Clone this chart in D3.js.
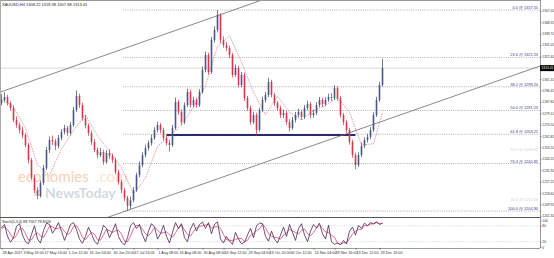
<!doctype html>
<html lang="en">
<head>
<meta charset="UTF-8">
<title>XAUUSD H4</title>
<script src="https://cdn.jsdelivr.net/npm/d3@7"></script>
<style>
  body { margin: 0; background: #fff; }
  svg { display: block; font-family: "Liberation Sans", Arial, sans-serif; }
  .axis text { font-size: 3.7px; fill: #333; }
  .axis.price text { font-size: 3.3px; }
  .axis path, .axis line { stroke: #555; stroke-width: 0.6; }
</style>
</head>
<body>
<svg width="554" height="258"></svg>
<script>
// H4 candles (open = previous close)
var firstOpen = 1287.0;
var closes = [1289.2,1291.5,1286.9,1283.1,1274.0,1270.2,1266.4,1262.6,1255.0,1243.6,
  1230.0,1220.8,1216.3,1226.2,1237.5,1251.2,1258.8,1257.9,1254.3,1260.3,
  1264.9,1267.9,1264.1,1270.2,1281.6,1292.2,1285.4,1275.5,1269.8,1264.1,
  1257.3,1251.2,1247.4,1249.7,1242.1,1248.9,1246.8,1243.6,1234.5,1226.9,
  1220.8,1214.8,1208.7,1213.2,1220.8,1232.2,1239.8,1247.4,1252.7,1256.5,
  1260.3,1266.4,1270.2,1266.4,1260.3,1256.5,1255.0,1267.9,1287.7,1280.1,
  1272.5,1285.4,1295.3,1285.4,1289.2,1285.4,1295.3,1312.0,1323.4,1310.5,
  1334.8,1342.4,1353.8,1334.8,1331.0,1328.7,1323.4,1308.2,1313.5,1300.6,
  1308.2,1290.7,1283.1,1272.5,1277.8,1266.4,1281.6,1289.2,1293.0,1302.9,
  1293.0,1286.9,1283.1,1277.8,1279.3,1272.5,1267.9,1274.0,1277.8,1280.1,
  1276.3,1283.1,1286.2,1277.8,1279.3,1285.4,1289.2,1286.2,1289.2,1291.5,
  1290.7,1298.3,1290.7,1277.8,1272.5,1266.4,1257.3,1247.4,1239.8,1247.4,
  1254.3,1258.8,1261.1,1266.4,1277.8,1289.2,1300.6,1313.4];
var highs = [1293.5,1295.0,1293.1,1288.4,1285.0,1276.8,1272.0,1268.9,1264.1,1256.7,
  1245.2,1232.5,1223.0,1228.0,1239.9,1253.4,1261.5,1262.3,1259.6,1262.7,
  1267.1,1270.4,1269.5,1272.6,1283.9,1296.4,1294.0,1287.1,1277.9,1271.4,
  1266.0,1259.4,1253.0,1252.6,1251.3,1251.0,1251.7,1248.5,1245.3,1236.2,
  1228.6,1222.5,1216.4,1215.8,1223.1,1234.0,1242.5,1249.6,1255.3,1258.4,
  1262.9,1268.5,1272.7,1271.8,1268.1,1262.4,1259.0,1270.3,1291.0,1289.4,
  1282.0,1287.3,1297.8,1297.0,1291.6,1291.0,1297.4,1314.6,1326.0,1325.1,
  1337.2,1345.3,1357.5,1355.2,1337.6,1333.4,1330.5,1325.0,1316.1,1315.0,
  1310.4,1309.9,1292.4,1284.8,1280.2,1279.5,1283.4,1291.8,1295.2,1306.0,
  1304.6,1294.7,1288.5,1284.9,1282.0,1281.1,1274.6,1276.3,1280.1,1282.6,
  1281.9,1285.4,1288.7,1287.9,1281.8,1287.6,1291.5,1290.9,1291.3,1294.0,
  1294.4,1300.4,1299.6,1292.3,1279.4,1274.2,1268.0,1259.0,1249.1,1249.5,
  1256.8,1260.7,1263.5,1268.6,1279.9,1291.6,1303.0,1320.5];
var lows = [1285.2,1287.6,1285.0,1280.9,1272.3,1268.1,1264.0,1260.2,1253.3,1241.0,
  1228.4,1218.3,1213.9,1215.1,1224.6,1236.0,1249.0,1254.8,1251.2,1252.5,
  1258.6,1263.0,1261.8,1262.4,1268.8,1280.0,1283.2,1273.4,1267.6,1262.0,
  1255.1,1249.5,1245.1,1245.9,1240.0,1240.8,1244.5,1241.2,1232.7,1224.8,
  1218.4,1212.3,1204.9,1206.5,1211.6,1219.3,1230.4,1238.1,1245.7,1250.8,
  1254.6,1258.9,1264.5,1264.0,1258.2,1254.7,1250.1,1253.6,1266.5,1277.9,
  1270.2,1270.8,1283.9,1283.5,1283.7,1283.3,1284.0,1294.1,1310.2,1308.4,
  1309.0,1332.9,1340.6,1332.4,1328.9,1326.2,1321.0,1306.4,1306.9,1298.7,
  1299.0,1288.5,1281.0,1270.3,1270.9,1262.0,1265.1,1280.0,1287.4,1291.5,
  1291.2,1284.8,1281.0,1275.6,1275.4,1270.4,1265.2,1266.5,1272.2,1276.0,
  1274.1,1274.8,1281.5,1275.6,1275.9,1277.7,1283.8,1284.0,1284.6,1287.8,
  1288.5,1289.1,1288.6,1275.9,1270.1,1264.3,1255.2,1245.3,1236.6,1238.2,
  1245.9,1252.6,1256.9,1259.4,1265.0,1276.3,1287.9,1299.4];

// dashed moving line (bar index, price)
var maIdx = [0,4,8,12,16,20,24,28,32,36,40,44,48,52,56,60,64,68,72,76,80,84,88,92,96,100,104,108,112,116,120,124,127];
var maVals = [1290,1284,1268,1240,1232,1252,1266,1278,1262,1250,1238,1218,1230,1254,1262,1270,1284,1300,1330,1338,1318,1295,1278,1292,1280,1274,1281,1285,1291,1280,1255,1256,1280];

// stochastic %K and %D
var stochK = [72,85,40,18,35,78,88,45,20,12,48,80,30,15,62,90,85,52,70,92,
  60,25,55,85,92,65,30,14,40,75,50,22,10,45,82,70,35,60,88,40,
  18,8,35,80,92,70,85,45,20,60,88,75,30,50,82,40,15,55,92,70,
  88,35,20,68,90,60,85,94,70,92,50,85,95,30,15,40,22,10,55,30,
  12,18,45,70,35,80,90,88,40,22,60,30,15,45,75,40,85,55,25,70,
  88,45,20,60,85,72,90,50,30,82,20,10,15,8,25,12,60,75,45,82,
  70,90,80,92,88,95,85,90];
var stochD = [70,76,66,48,31,44,67,70,51,26,27,47,53,42,36,56,79,76,69,71,
  74,59,47,55,77,81,62,36,28,43,55,49,27,26,46,66,62,55,61,63,
  49,22,20,41,69,81,82,67,50,42,56,74,64,52,54,57,46,37,54,72,
  83,64,48,41,59,73,78,80,83,85,71,76,77,70,47,28,26,24,29,32,
  32,20,25,44,50,62,68,86,73,50,41,37,35,30,45,53,67,60,55,50,
  61,68,51,42,55,72,82,71,57,54,44,37,15,11,16,15,32,49,60,67,
  66,81,80,87,87,92,89,90];

// fibonacci retracement
var fibPct = ['0.0','23.6','38.2','50.0','61.8','76.4','100.0'];
var fibPrices = [1357.55,1321.53,1299.24,1281.23,1263.21,1240.92,1204.90];
var faintPct = ['70.7','95.5'];
var faintPrices = [1249.62,1211.68];

// other drawn objects
var upperChannel = [[-1, 1294.7], [90, 1367.7]];
var lowerChannel = [[30, 1195.8], [185, 1319.4]];
var supportLine = [[55, 1262.6], [118, 1262.6]];
var bid = 1313.41;

var priceTicks = [1357.00,1348.35,1339.70,1331.05,1322.40,1313.75,1305.10,1296.45,1287.80,1279.15,
  1270.50,1261.85,1253.20,1244.55,1235.90,1227.25,1218.60,1209.95,1201.30];
var timeIdx = [0,7,14,22,29,37,44,52,59,67,74,82,89,96,104,111,118,126];
var timeLabels = ['28 Apr 2017','3 May 16:00','17 May 16:00','1 Jun 12:00','16 Jun 04:00','30 Jun 20:00',
  '17 Jul 16:00','1 Aug 08:00','16 Aug 08:00','30 Aug 08:00','14 Sep 12:00','29 Sep 04:00',
  '13 Oct 20:00','30 Oct 12:00','14 Nov 04:00','29 Nov 16:00','13 Dec 12:00','29 Dec 16:00'];

var svg = d3.select('svg'),
    axisX = 540,
    mainTop = 1, mainBottom = 217,
    oscTop = 218, oscBottom = 248;

var x = d3.scaleLinear().domain([-0.5, 179.5]).range([0, axisX]);
var y = d3.scaleLinear().domain([1204.90, 1357.55]).range([211, 10]);
var ys = d3.scaleLinear().domain([0, 100]).range([247, 220.5]);

var defs = svg.append('defs');
defs.append('clipPath').attr('id', 'clipMain').append('rect')
    .attr('x', 1).attr('y', mainTop).attr('width', axisX - 1).attr('height', mainBottom - mainTop);
defs.append('clipPath').attr('id', 'clipOsc').append('rect')
    .attr('x', 1).attr('y', oscTop).attr('width', axisX - 1).attr('height', oscBottom - oscTop);

// frames
svg.append('line').attr('x1', 0).attr('x2', axisX).attr('y1', 0.5).attr('y2', 0.5).attr('stroke', '#999').attr('stroke-width', 1);
svg.append('line').attr('x1', 0.5).attr('x2', 0.5).attr('y1', 0).attr('y2', oscBottom).attr('stroke', '#aaa').attr('stroke-width', 1);
svg.append('line').attr('x1', 0).attr('x2', axisX).attr('y1', mainBottom + 0.5).attr('y2', mainBottom + 0.5).attr('stroke', '#555').attr('stroke-width', 1.2);

// watermark
var wm = svg.append('g').attr('opacity', 0.5);
wm.append('text').attr('x', 18).attr('y', 182).attr('font-size', 15).attr('font-family', 'Lato, sans-serif')
    .attr('fill', '#f0a36a').text('economies');
wm.append('text').attr('x', 96).attr('y', 182).attr('font-size', 15).attr('font-family', 'Lato, sans-serif')
    .attr('fill', '#f6c9a6').text('.com');
wm.append('text').attr('x', 32).attr('y', 197).attr('font-size', 11).attr('font-family', 'Lato, sans-serif')
    .attr('fill', '#aab3c2').text('\u2715');
wm.append('text').attr('x', 45).attr('y', 198).attr('font-size', 14).attr('font-weight', 'bold').attr('font-family', 'Lato, sans-serif')
    .attr('fill', '#aab3c2').text('NewsToday');

var g = svg.append('g').attr('clip-path', 'url(#clipMain)');

// bid line
g.append('line').attr('x1', 0).attr('x2', axisX).attr('y1', y(bid)).attr('y2', y(bid))
    .attr('stroke', '#cfcfcf').attr('stroke-width', 0.8);

// fibo levels
g.selectAll('.fib').data(fibPrices).enter().append('line')
    .attr('x1', x(40.5)).attr('x2', axisX)
    .attr('y1', function(d) { return y(d); }).attr('y2', function(d) { return y(d); })
    .attr('stroke', '#8e8e8e').attr('stroke-width', 0.7).attr('stroke-dasharray', '1,1.2');
g.selectAll('.fibl').data(fibPrices).enter().append('text')
    .attr('x', axisX - 2).attr('y', function(d) { return y(d) - 1; })
    .attr('text-anchor', 'end').attr('font-size', 3.9).attr('fill', '#3b3b8f')
    .text(function(d, i) { return fibPct[i] + ' @ ' + d.toFixed(2); });
g.selectAll('.faint').data(faintPrices).enter().append('text')
    .attr('x', axisX - 2).attr('y', function(d) { return y(d) - 1; })
    .attr('text-anchor', 'end').attr('font-size', 3.9).attr('fill', '#d0d0d8')
    .text(function(d, i) { return faintPct[i] + ' @ ' + d.toFixed(2); });

// support line
g.append('line')
    .attr('x1', x(supportLine[0][0])).attr('x2', x(supportLine[1][0]))
    .attr('y1', y(supportLine[0][1])).attr('y2', y(supportLine[1][1]))
    .attr('stroke', '#2b2d6b').attr('stroke-width', 1.8);

// channel lines
[upperChannel, lowerChannel].forEach(function(c) {
    g.append('line')
        .attr('x1', x(c[0][0])).attr('y1', y(c[0][1]))
        .attr('x2', x(c[1][0])).attr('y2', y(c[1][1]))
        .attr('stroke', '#6a6a78').attr('stroke-width', 0.8);
});

// dashed line
g.append('path').datum(maIdx)
    .attr('fill', 'none').attr('stroke', '#c7606c').attr('stroke-width', 0.6).attr('stroke-dasharray', '1.5,1')
    .attr('d', d3.line().x(function(d) { return x(d); }).y(function(d, i) { return y(maVals[i]); }));

// candles
var candles = g.selectAll('.c').data(closes).enter().append('g');
function openOf(i) { return i ? closes[i - 1] : firstOpen; }
function isUp(d, i) { return d >= openOf(i); }
candles.append('line')
    .attr('x1', function(d, i) { return x(i); }).attr('x2', function(d, i) { return x(i); })
    .attr('y1', function(d, i) { return y(highs[i]); }).attr('y2', function(d, i) { return y(lows[i]); })
    .attr('stroke', function(d, i) { return isUp(d, i) ? '#33406e' : '#c92a3e'; })
    .attr('stroke-width', 0.7);
candles.append('rect')
    .attr('x', function(d, i) { return x(i) - 0.8; })
    .attr('width', 1.6)
    .attr('y', function(d, i) { return y(Math.max(d, openOf(i))); })
    .attr('height', function(d, i) { return Math.max(0.6, Math.abs(y(d) - y(openOf(i)))); })
    .attr('fill', function(d, i) { return isUp(d, i) ? '#4a5785' : '#d8364a'; });

// header
svg.append('text').attr('x', 2).attr('y', 6).attr('font-size', 4).attr('fill', '#222')
    .text('XAUUSD,H4  1308.22 1318.38 1307.88 1313.41');

// price axis
svg.append('g').attr('class', 'axis price')
    .attr('transform', 'translate(' + axisX + ',0)')
    .call(d3.axisRight(y).tickValues(priceTicks).tickSize(1.5).tickPadding(0.8).tickFormat(d3.format('.2f')))
    .call(function(a) { a.select('.domain').attr('d', 'M0.5,0V' + oscBottom); });

// bid box
svg.append('rect').attr('x', axisX).attr('y', y(bid) - 3).attr('width', 14).attr('height', 6).attr('fill', '#000');
svg.append('text').attr('x', axisX + 1.5).attr('y', y(bid) + 1.2).attr('font-size', 3.3).attr('fill', '#fff').text(bid.toFixed(2));

// stochastic panel
var so = svg.append('g');
[20, 80].forEach(function(v) {
    so.append('line').attr('x1', 1).attr('x2', axisX).attr('y1', ys(v)).attr('y2', ys(v))
        .attr('stroke', '#bbb').attr('stroke-width', 0.6).attr('stroke-dasharray', '1,1.2');
});
var sp = so.append('g').attr('clip-path', 'url(#clipOsc)');
sp.append('path').datum(stochD)
    .attr('fill', 'none').attr('stroke', '#d9457a').attr('stroke-width', 0.8)
    .attr('d', d3.line().x(function(d, i) { return x(i); }).y(function(d) { return ys(d); }));
sp.append('path').datum(stochK)
    .attr('fill', 'none').attr('stroke', '#4b2450').attr('stroke-width', 0.8)
    .attr('d', d3.line().x(function(d, i) { return x(i); }).y(function(d) { return ys(d); }));
so.append('text').attr('x', 2).attr('y', 222.5).attr('font-size', 3.7).attr('fill', '#222')
    .text('Stoch(5,3,3) 88.7567 79.8026');
svg.append('g').attr('class', 'axis price')
    .attr('transform', 'translate(' + axisX + ',0)')
    .call(d3.axisRight(ys).tickValues([0, 20, 80, 100]).tickSize(1.5).tickPadding(0.8))
    .call(function(a) { a.select('.domain').remove(); });

// time axis
svg.append('g').attr('class', 'axis')
    .attr('transform', 'translate(0,' + oscBottom + ')')
    .call(d3.axisBottom(x).tickValues(timeIdx).tickSize(2).tickPadding(1.5)
        .tickFormat(function(d, i) { return timeLabels[i]; }))
    .call(function(a) {
        a.select('.domain').attr('d', 'M0,0.5H' + axisX);
        a.selectAll('text').attr('text-anchor', 'start').attr('dx', '0.5');
    });
</script>
</body>
</html>
